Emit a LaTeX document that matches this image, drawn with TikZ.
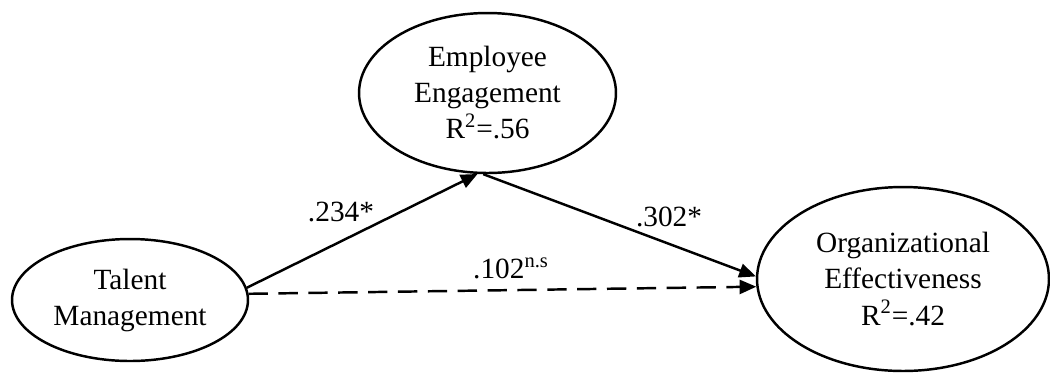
\documentclass[tikz,border=0pt]{standalone}
\usepackage{fontspec}
\setmainfont{Liberation Serif}
\usetikzlibrary{shapes.geometric,arrows.meta}
\tikzset{
  latent/.style={ellipse, draw, line width=1.4pt, align=center, inner sep=0pt,
    font=\fontsize{16.7pt}{20.5pt}\selectfont},
  path/.style={line width=1.4pt, -{Triangle[length=9.5pt,width=8pt]}},
  nspath/.style={path, dash pattern=on 11pt off 6pt},
  coef/.style={font=\fontsize{16.7pt}{20.5pt}\selectfont, inner sep=0pt}
}
\begin{document}
\begin{tikzpicture}[x=0.02cm,y=-0.02cm]
\useasboundingbox (0,0) rectangle (1050,373);
\node[latent, minimum width=4.72cm, minimum height=2.44cm] (tm) at (130,300) {Talent\\Management};
\node[latent, minimum width=5.14cm, minimum height=3.2cm] (ee) at (487.5,93) {Employee\\Engagement\\R\textsuperscript{2}=.56};
\node[latent, minimum width=5.84cm, minimum height=3.68cm] (oe) at (903,279) {Organizational\\Effectiveness\\R\textsuperscript{2}=.42};
\draw[path] (tm.6) -- (ee.263);
\draw[path] (ee.267) -- (oe.179);
\draw[nspath] (tm.3) -- (oe.183);
\node[coef] (c1) at (341,212) {.234*};
\node[coef] (c2) at (669,217) {.302*};
\node[coef] (c3) at (511,268) {.102\textsuperscript{n.s}};
\end{tikzpicture}
\end{document}
